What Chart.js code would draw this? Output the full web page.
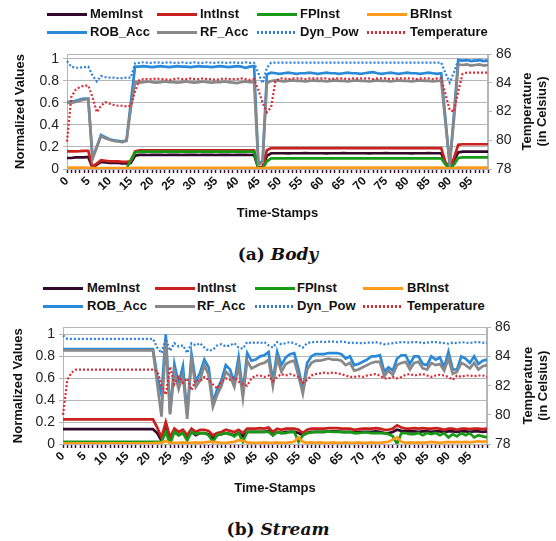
<!DOCTYPE html>
<html><head><meta charset="utf-8">
<script src="https://cdn.jsdelivr.net/npm/chart.js@4.4.1/dist/chart.umd.min.js"></script>
<style>
body{margin:0;width:556px;height:541px;position:relative;background:#fff;overflow:hidden;font-family:"Liberation Sans",Arial,sans-serif}
canvas.cv{position:absolute;left:0}
.li{position:absolute;height:18px;font:bold 13px "Liberation Sans",Arial,sans-serif;color:#111;white-space:nowrap;line-height:18px}
.sw{position:absolute;width:40px;height:3px}
.cap{position:absolute;left:0;width:556px;text-align:center;font:bold 17px "DejaVu Serif",serif;color:#111}
</style></head><body>
<canvas id="c1" class="cv" width="556" height="190" style="top:40px"></canvas>
<canvas id="c2" class="cv" width="556" height="190" style="top:315px"></canvas>
<div class="cap" style="top:244px">(a) <i>Body</i></div>
<div class="cap" style="top:519px">(b) <i>Stream</i></div>
<script>
const timeStamps = [0,1,2,3,4,5,6,7,8,9,10,11,12,13,14,15,16,17,18,19,20,21,22,23,24,25,26,27,28,29,30,31,32,33,34,35,36,37,38,39,40,41,42,43,44,45,46,47,48,49,50,51,52,53,54,55,56,57,58,59,60,61,62,63,64,65,66,67,68,69,70,71,72,73,74,75,76,77,78,79,80,81,82,83,84,85,86,87,88,89,90,91,92,93,94,95,96,97,98,99];
const xTickLabels = ['0','5','10','15','20','25','30','35','40','45','50','55','60','65','70','75','80','85','90','95'];
const leftTicks = [0,0.2,0.4,0.6,0.8,1];
const rightTicks = [78,80,82,84,86];
const seriesNames = ['MemInst','IntInst','FPInst','BRInst','ROB_Acc','RF_Acc','Dyn_Pow','Temperature'];

// ---------- (a) Body ----------
const bodyMemInst = [
0.100,0.100,0.105,0.105,0.105,0.110,0.010,0.040,0.065,0.060,
0.055,0.055,0.055,0.050,0.050,0.055,0.120,0.128,0.128,0.127,
0.128,0.128,0.128,0.127,0.128,0.128,0.128,0.127,0.128,0.128,
0.128,0.127,0.128,0.128,0.128,0.127,0.128,0.128,0.128,0.127,
0.128,0.128,0.128,0.127,0.128,0.005,0.010,0.120,0.143,0.143,
0.143,0.143,0.142,0.143,0.143,0.143,0.144,0.143,0.143,0.143,
0.143,0.142,0.143,0.143,0.143,0.144,0.143,0.143,0.143,0.143,
0.143,0.142,0.143,0.143,0.143,0.144,0.143,0.143,0.143,0.143,
0.143,0.142,0.143,0.143,0.143,0.144,0.143,0.143,0.143,0.050,
0.010,0.080,0.150,0.157,0.157,0.157,0.157,0.157,0.157,0.157];
const bodyIntInst = [
0.160,0.160,0.160,0.162,0.165,0.165,0.020,0.050,0.080,0.075,
0.070,0.070,0.070,0.065,0.065,0.070,0.160,0.170,0.170,0.170,
0.170,0.170,0.170,0.170,0.170,0.170,0.170,0.170,0.170,0.170,
0.170,0.170,0.170,0.170,0.170,0.170,0.170,0.170,0.170,0.170,
0.170,0.170,0.170,0.170,0.170,0.010,0.020,0.170,0.190,0.190,
0.190,0.190,0.190,0.190,0.190,0.190,0.190,0.190,0.190,0.190,
0.190,0.190,0.190,0.190,0.190,0.190,0.190,0.190,0.190,0.190,
0.190,0.190,0.190,0.190,0.190,0.190,0.190,0.190,0.190,0.190,
0.190,0.190,0.190,0.190,0.190,0.190,0.190,0.190,0.190,0.060,
0.010,0.100,0.220,0.225,0.225,0.225,0.225,0.225,0.225,0.225];
const bodyFPInst = [
0.003,0.003,0.003,0.003,0.003,0.003,0.003,0.003,0.003,0.003,
0.003,0.003,0.003,0.003,0.003,0.080,0.150,0.158,0.158,0.158,
0.158,0.158,0.158,0.158,0.158,0.158,0.158,0.158,0.158,0.158,
0.158,0.158,0.158,0.158,0.158,0.158,0.158,0.158,0.158,0.158,
0.158,0.158,0.158,0.158,0.158,0.003,0.003,0.070,0.097,0.097,
0.097,0.097,0.097,0.097,0.097,0.097,0.097,0.097,0.097,0.097,
0.097,0.097,0.097,0.097,0.097,0.097,0.097,0.097,0.097,0.097,
0.097,0.097,0.097,0.097,0.097,0.097,0.097,0.097,0.097,0.097,
0.097,0.097,0.097,0.097,0.097,0.097,0.097,0.097,0.097,0.040,
0.003,0.040,0.100,0.106,0.106,0.106,0.106,0.106,0.106,0.106];
const bodyBRInst = [
0.012,0.012,0.012,0.012,0.012,0.010,0.008,0.008,0.008,0.008,
0.008,0.008,0.008,0.008,0.008,0.008,0.010,0.010,0.010,0.010,
0.010,0.010,0.010,0.010,0.010,0.010,0.010,0.010,0.010,0.010,
0.010,0.010,0.010,0.010,0.010,0.010,0.010,0.010,0.010,0.010,
0.010,0.010,0.010,0.010,0.010,0.005,0.005,0.010,0.012,0.012,
0.012,0.012,0.012,0.012,0.012,0.012,0.012,0.012,0.012,0.012,
0.012,0.012,0.012,0.012,0.012,0.012,0.012,0.012,0.012,0.012,
0.012,0.012,0.012,0.012,0.012,0.012,0.012,0.012,0.012,0.012,
0.012,0.012,0.012,0.012,0.012,0.012,0.012,0.012,0.012,0.008,
0.005,0.008,0.012,0.012,0.012,0.012,0.012,0.012,0.012,0.012];
const bodyROBAcc = [
0.61,0.61,0.62,0.63,0.64,0.64,0.10,0.20,0.31,0.29,
0.27,0.26,0.255,0.25,0.26,0.60,0.93,0.93,0.935,0.93,
0.925,0.93,0.935,0.93,0.925,0.93,0.935,0.93,0.93,0.925,
0.93,0.935,0.93,0.93,0.925,0.93,0.935,0.93,0.925,0.93,
0.935,0.93,0.92,0.93,0.935,0.05,0.07,0.86,0.875,0.87,
0.865,0.87,0.875,0.87,0.865,0.87,0.87,0.875,0.87,0.865,
0.87,0.875,0.87,0.87,0.865,0.87,0.875,0.87,0.87,0.865,
0.87,0.875,0.88,0.87,0.865,0.87,0.875,0.87,0.865,0.87,
0.875,0.87,0.87,0.865,0.87,0.875,0.87,0.865,0.87,0.45,
0.03,0.50,0.99,0.985,0.99,0.98,0.985,0.99,0.98,0.985];
const bodyRFAcc = [
0.60,0.60,0.61,0.62,0.63,0.635,0.09,0.20,0.30,0.28,
0.265,0.255,0.25,0.245,0.255,0.55,0.79,0.785,0.79,0.795,
0.79,0.785,0.79,0.795,0.79,0.79,0.785,0.79,0.795,0.79,
0.785,0.79,0.795,0.79,0.785,0.79,0.79,0.795,0.79,0.785,
0.78,0.79,0.795,0.79,0.79,0.04,0.06,0.78,0.80,0.805,
0.80,0.795,0.80,0.805,0.80,0.80,0.795,0.80,0.805,0.80,
0.80,0.795,0.80,0.805,0.80,0.80,0.795,0.80,0.805,0.80,
0.80,0.795,0.80,0.805,0.80,0.80,0.795,0.80,0.805,0.80,
0.80,0.795,0.80,0.805,0.80,0.80,0.795,0.80,0.80,0.42,
0.05,0.45,0.95,0.945,0.95,0.94,0.945,0.95,0.94,0.945];
const bodyDynPow = [
0.98,0.93,0.92,0.92,0.925,0.93,0.85,0.795,0.845,0.835,
0.83,0.83,0.825,0.825,0.83,0.83,0.96,0.965,0.97,0.965,
0.965,0.97,0.965,0.965,0.97,0.965,0.965,0.97,0.965,0.965,
0.97,0.965,0.965,0.97,0.965,0.965,0.97,0.965,0.965,0.97,
0.965,0.965,0.97,0.965,0.965,0.87,0.78,0.92,0.966,0.966,
0.966,0.966,0.966,0.966,0.966,0.966,0.966,0.966,0.966,0.966,
0.966,0.966,0.966,0.966,0.966,0.966,0.966,0.966,0.966,0.966,
0.966,0.966,0.966,0.966,0.966,0.966,0.966,0.966,0.966,0.966,
0.966,0.966,0.966,0.966,0.966,0.966,0.966,0.966,0.966,0.87,
0.785,0.88,0.99,0.985,0.985,0.985,0.985,0.985,0.985,0.985];
const bodyTemperature = [
79.9,83.0,83.5,83.7,83.8,83.8,83.0,81.95,82.4,82.65,
82.55,82.45,82.4,82.4,82.35,82.4,83.4,84.2,84.25,84.25,
84.25,84.3,84.25,84.25,84.2,84.25,84.3,84.25,84.25,84.3,
84.25,84.25,84.3,84.25,84.25,84.2,84.25,84.3,84.25,84.25,
84.25,84.3,84.25,84.2,84.25,83.5,82.6,81.95,82.3,84.1,
84.3,84.3,84.25,84.3,84.3,84.3,84.25,84.3,84.3,84.3,
84.3,84.3,84.25,84.3,84.3,84.3,84.25,84.3,84.3,84.3,
84.3,84.3,84.25,84.3,84.3,84.3,84.25,84.3,84.3,84.3,
84.3,84.3,84.25,84.3,84.3,84.3,84.25,84.3,84.3,83.2,
82.1,82.0,83.4,84.6,84.7,84.7,84.7,84.7,84.7,84.7];

// ---------- (b) Stream ----------
const streamMemInst = [
0.135,0.135,0.135,0.135,0.135,0.135,0.135,0.135,0.135,0.135,
0.135,0.135,0.135,0.135,0.135,0.135,0.135,0.135,0.135,0.135,
0.135,0.135,0.10,0.03,0.15,0.04,0.11,0.08,0.10,0.05,
0.11,0.08,0.10,0.10,0.09,0.05,0.08,0.09,0.10,0.09,
0.08,0.10,0.07,0.11,0.11,0.11,0.11,0.11,0.12,0.08,
0.11,0.10,0.11,0.11,0.11,0.10,0.08,0.10,0.11,0.11,
0.11,0.11,0.115,0.115,0.115,0.11,0.11,0.11,0.105,0.11,
0.11,0.11,0.11,0.115,0.11,0.10,0.10,0.11,0.13,0.12,
0.115,0.115,0.115,0.11,0.115,0.115,0.11,0.115,0.115,0.11,
0.115,0.115,0.11,0.115,0.115,0.11,0.115,0.115,0.11,0.115];
const streamIntInst = [
0.225,0.225,0.225,0.225,0.225,0.225,0.225,0.225,0.225,0.225,
0.225,0.225,0.225,0.225,0.225,0.225,0.225,0.225,0.225,0.225,
0.225,0.225,0.15,0.06,0.20,0.06,0.14,0.11,0.13,0.08,
0.14,0.11,0.13,0.13,0.12,0.08,0.10,0.11,0.13,0.12,
0.11,0.13,0.10,0.14,0.14,0.14,0.145,0.14,0.15,0.11,
0.14,0.13,0.14,0.14,0.14,0.13,0.10,0.13,0.14,0.14,
0.14,0.14,0.145,0.145,0.145,0.14,0.14,0.14,0.13,0.135,
0.14,0.14,0.14,0.145,0.14,0.13,0.13,0.14,0.17,0.15,
0.14,0.14,0.145,0.14,0.145,0.14,0.14,0.145,0.14,0.13,
0.14,0.14,0.13,0.14,0.14,0.135,0.14,0.14,0.135,0.14];
const streamFPInst = [
0.02,0.02,0.02,0.02,0.02,0.02,0.02,0.02,0.02,0.02,
0.02,0.02,0.02,0.02,0.02,0.02,0.02,0.02,0.02,0.02,
0.02,0.02,0.02,0.02,0.11,0.00,0.11,0.08,0.10,0.03,
0.11,0.09,0.10,0.10,0.08,0.02,0.08,0.09,0.10,0.09,
0.07,0.10,0.02,0.11,0.11,0.11,0.11,0.11,0.11,0.08,
0.11,0.10,0.10,0.11,0.11,0.02,0.08,0.10,0.105,0.11,
0.11,0.11,0.115,0.11,0.11,0.11,0.105,0.11,0.10,0.10,
0.105,0.105,0.10,0.10,0.10,0.10,0.09,0.07,0.00,0.10,
0.10,0.09,0.09,0.10,0.08,0.10,0.09,0.10,0.08,0.10,
0.06,0.09,0.07,0.10,0.08,0.10,0.06,0.08,0.07,0.06];
const streamBRInst = [
0.005,0.005,0.005,0.005,0.005,0.005,0.005,0.005,0.005,0.005,
0.005,0.005,0.005,0.005,0.005,0.005,0.005,0.005,0.005,0.005,
0.005,0.005,0.01,0.01,0.03,0.01,0.01,0.01,0.015,0.01,
0.01,0.015,0.01,0.015,0.02,0.02,0.015,0.01,0.01,0.015,
0.02,0.035,0.03,0.015,0.01,0.01,0.01,0.015,0.01,0.01,
0.015,0.01,0.01,0.015,0.02,0.06,0.02,0.01,0.015,0.01,
0.015,0.01,0.01,0.015,0.01,0.01,0.015,0.01,0.01,0.015,
0.01,0.01,0.015,0.01,0.01,0.015,0.02,0.04,0.06,0.02,
0.01,0.015,0.01,0.015,0.01,0.015,0.02,0.015,0.01,0.015,
0.02,0.015,0.02,0.015,0.02,0.015,0.02,0.025,0.02,0.025];
const streamROBAcc = [
0.865,0.865,0.865,0.865,0.865,0.865,0.865,0.865,0.865,0.865,
0.865,0.865,0.865,0.865,0.865,0.865,0.865,0.865,0.865,0.865,
0.865,0.865,0.62,0.45,1.00,0.28,0.73,0.55,0.71,0.27,
0.82,0.57,0.65,0.77,0.70,0.38,0.50,0.58,0.72,0.68,
0.56,0.79,0.47,0.83,0.76,0.77,0.80,0.81,0.84,0.57,
0.84,0.72,0.79,0.82,0.83,0.68,0.50,0.74,0.80,0.82,
0.82,0.82,0.83,0.83,0.83,0.82,0.78,0.80,0.72,0.73,
0.75,0.77,0.80,0.80,0.81,0.66,0.70,0.67,0.78,0.81,
0.81,0.73,0.80,0.80,0.73,0.72,0.80,0.77,0.79,0.70,
0.84,0.68,0.68,0.80,0.78,0.74,0.80,0.73,0.76,0.77];
const streamRFAcc = [
0.855,0.855,0.855,0.855,0.855,0.855,0.855,0.855,0.855,0.855,
0.855,0.855,0.855,0.855,0.855,0.855,0.855,0.855,0.855,0.855,
0.855,0.855,0.55,0.25,0.95,0.27,0.66,0.50,0.63,0.23,
0.77,0.52,0.58,0.72,0.63,0.34,0.45,0.53,0.66,0.62,
0.52,0.72,0.42,0.76,0.69,0.71,0.73,0.74,0.77,0.53,
0.78,0.66,0.73,0.75,0.76,0.62,0.46,0.68,0.74,0.76,
0.76,0.77,0.78,0.77,0.77,0.76,0.72,0.74,0.67,0.68,
0.70,0.72,0.74,0.75,0.75,0.62,0.67,0.63,0.72,0.74,
0.75,0.68,0.74,0.75,0.69,0.68,0.74,0.72,0.73,0.67,
0.78,0.64,0.66,0.74,0.72,0.69,0.74,0.68,0.71,0.72];
const streamDynPow = [
0.99,0.96,0.96,0.96,0.96,0.96,0.96,0.96,0.96,0.96,
0.96,0.96,0.96,0.96,0.96,0.96,0.96,0.96,0.96,0.96,
0.96,0.96,0.88,0.83,0.96,0.85,0.92,0.89,0.90,0.83,
0.92,0.90,0.92,0.88,0.85,0.86,0.90,0.91,0.89,0.90,
0.92,0.88,0.87,0.93,0.92,0.93,0.92,0.93,0.90,0.88,
0.93,0.91,0.92,0.93,0.92,0.90,0.88,0.92,0.93,0.93,
0.935,0.93,0.935,0.935,0.93,0.935,0.93,0.92,0.925,0.92,
0.92,0.925,0.925,0.93,0.92,0.91,0.915,0.92,0.925,0.93,
0.93,0.925,0.93,0.93,0.92,0.925,0.93,0.93,0.925,0.92,
0.915,0.925,0.92,0.93,0.925,0.92,0.93,0.93,0.925,0.92];
const streamTemperature = [
80.0,82.4,82.9,83.1,83.1,83.1,83.1,83.1,83.1,83.1,
83.1,83.1,83.1,83.1,83.1,83.1,83.1,83.1,83.1,83.1,
83.1,83.1,83.0,82.0,81.4,83.3,82.1,82.6,82.2,82.5,
81.7,82.4,82.3,82.6,82.4,82.1,81.8,82.3,82.5,82.4,
82.6,82.3,82.1,82.0,82.5,82.7,82.7,82.6,82.7,82.3,
82.6,82.8,82.7,82.8,82.7,82.6,82.2,82.4,82.7,82.8,
82.85,82.9,82.85,82.9,82.85,82.8,82.7,82.6,82.6,82.65,
82.6,82.7,82.75,82.8,82.7,82.5,82.5,82.6,82.5,82.6,
82.75,82.8,82.7,82.75,82.8,82.7,82.6,82.7,82.75,82.7,
82.6,82.4,82.7,82.6,82.7,82.7,82.65,82.7,82.7,82.6];

// ---------- styles ----------
const styles = {
  MemInst:{color:'#33082c',dash:false,order:7},
  IntInst:{color:'#c9211e',dash:false,order:6},
  FPInst:{color:'#179b17',dash:false,order:5},
  BRInst:{color:'#ff9a1a',dash:false,order:2},
  ROB_Acc:{color:'#2a8ad8',dash:false,order:4},
  RF_Acc:{color:'#888888',dash:false,order:3},
  Dyn_Pow:{color:'#2f80d8',dash:true,order:1},
  Temperature:{color:'#dd2a35',dash:true,order:0}
};

function addLegend(rowY, xs){
  seriesNames.forEach((n,k)=>{
    const r = Math.floor(k/4), c = k%4;
    const st = styles[n];
    const sw = document.createElement('div');
    sw.className='sw';
    sw.style.left = xs[c][0]+'px';
    sw.style.top = (rowY[r]-1.5)+'px';
    sw.style.background = st.dash
      ? 'repeating-linear-gradient(90deg,'+st.color+' 0 2px,transparent 2px 4px)'
      : st.color;
    document.body.appendChild(sw);
    const t = document.createElement('div');
    t.className='li'; t.textContent=n;
    t.style.left = xs[c][1]+'px'; t.style.top=(rowY[r]-9)+'px';
    document.body.appendChild(t);
  });
}
addLegend([14,32],[[47,90],[157,200],[257,300],[367,410]]);
addLegend([288,306],[[43,87],[155,197],[255,297],[363,407]]);

const framePlugin = {
  id:'frame',
  beforeDatasetsDraw(chart){
    const {ctx, chartArea:a} = chart;
    ctx.save(); ctx.strokeStyle='#b5b5b5'; ctx.lineWidth=1;
    ctx.strokeRect(Math.round(a.left)+0.5, Math.round(a.top)+0.5, Math.round(a.right-a.left)-1, Math.round(a.bottom-a.top));
    ctx.restore();
  }
};
const rightTitlePlugin = {
  id:'rightTitle',
  afterDraw(chart, args, o){
    const {ctx, chartArea:a} = chart;
    const cy = (a.top+a.bottom)/2;
    ctx.save();
    ctx.font = 'bold 13px "Liberation Sans", Arial, sans-serif';
    ctx.fillStyle = '#111'; ctx.textAlign='center'; ctx.textBaseline='middle';
    [[o.line1,o.x1],[o.line2,o.x2]].forEach(([t,x])=>{
      ctx.save(); ctx.translate(x,cy); ctx.rotate(-Math.PI/2); ctx.fillText(t,0,0); ctx.restore();
    });
    ctx.restore();
  }
};

function makeChart(id, d, g){
  const vals = [d.mem,d.int,d.fp,d.br,d.rob,d.rf,d.dyn,d.temp];
  const datasets = seriesNames.map((n,k)=>{
    const st = styles[n];
    return {
      label:n, data:vals[k], yAxisID: n==='Temperature'?'y1':'y',
      borderColor:st.color, backgroundColor:st.color,
      borderWidth: st.dash?2.2:2.7, borderDash: st.dash?[2,2]:[],
      pointRadius:0, tension:0, fill:false, order:st.order
    };
  });
  return new Chart(document.getElementById(id), {
    type:'line',
    data:{labels:timeStamps, datasets},
    plugins:[framePlugin, rightTitlePlugin],
    options:{
      responsive:false, animation:false, events:[],
      layout:{padding:{top:g.padTop,left:0,right:0,bottom:0}},
      plugins:{legend:{display:false}, tooltip:{enabled:false},
        rightTitle:{line1:'Temperature', line2:'(in Celsius)', x1:g.rtX1, x2:g.rtX2}},
      scales:{
        x:{
          type:'category', offset:false,
          afterFit(s){ s.height = 61; },
          grid:{display:true, drawOnChartArea:false, drawTicks:true, tickLength:4, tickColor:'#3a1032', tickWidth:1.5},
          border:{display:true, color:'#b5b5b5'},
          ticks:{autoSkip:false, minRotation:45, maxRotation:45, padding:1, color:'#111',
            font:{family:'"Liberation Sans", Arial, sans-serif', size:12, weight:'bold'},
            callback:function(v){ const l=String(this.getLabelForValue(v)); return xTickLabels.includes(l)?l:''; }},
          title:{display:true, text:'Time-Stamps', color:'#111',
            font:{family:'"Liberation Sans", Arial, sans-serif', size:13, weight:'bold'},
            padding:{top:0,bottom:9}}
        },
        y:{
          position:'left', min:0, max:g.leftMax,
          afterFit(s){ s.width = g.leftW; },
          afterBuildTicks(s){ s.ticks = leftTicks.map(v=>({value:v})); },
          grid:{color:'#b5b5b5', lineWidth:1, tickLength:4, tickColor:'#b5b5b5'},
          border:{display:true, color:'#b5b5b5'},
          ticks:{padding:4, color:'#222', font:{family:'"Liberation Sans", Arial, sans-serif', size:14},
            callback:(v)=>String(Math.round(v*10)/10)},
          title:{display:true, text:'Normalized Values', color:'#111',
            font:{family:'"Liberation Sans", Arial, sans-serif', size:13, weight:'bold'},
            padding:{top:g.ltPad,bottom:0}}
        },
        y1:{
          position:'right', min:78, max:86,
          afterFit(s){ s.width = g.rightW; },
          afterBuildTicks(s){ s.ticks = rightTicks.map(v=>({value:v})); },
          grid:{drawOnChartArea:false, tickLength:4, tickColor:'#b5b5b5'},
          border:{display:true, color:'#b5b5b5'},
          ticks:{padding:4, color:'#222', font:{family:'"Liberation Sans", Arial, sans-serif', size:14}}
        }
      }
    }
  });
}

makeChart('c1', {mem:bodyMemInst,int:bodyIntInst,fp:bodyFPInst,br:bodyBRInst,rob:bodyROBAcc,rf:bodyRFAcc,dyn:bodyDynPow,temp:bodyTemperature},
  {padTop:14, leftW:67, rightW:68, leftMax:1.045, ltPad:13, rtX1:527, rtX2:542});
makeChart('c2', {mem:streamMemInst,int:streamIntInst,fp:streamFPInst,br:streamBRInst,rob:streamROBAcc,rf:streamRFAcc,dyn:streamDynPow,temp:streamTemperature},
  {padTop:12, leftW:63, rightW:69, leftMax:1.064, ltPad:11, rtX1:528, rtX2:543});
</script>
</body></html>
